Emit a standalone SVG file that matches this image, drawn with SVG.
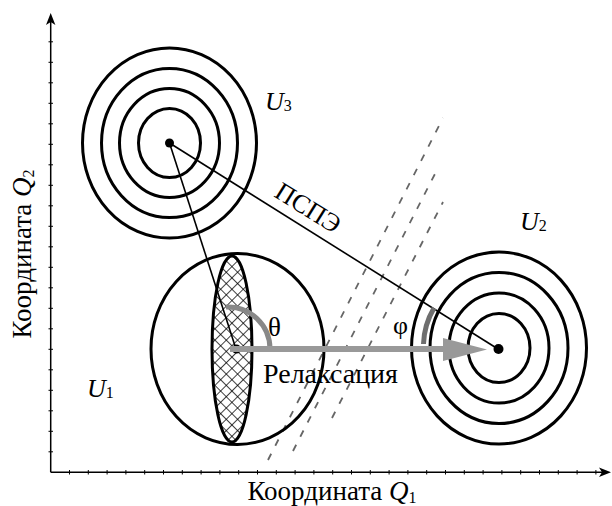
<svg xmlns="http://www.w3.org/2000/svg" width="612" height="506" viewBox="0 0 612 506">
<defs>
<style>
.ax{stroke:#000;stroke-width:1.5;fill:none}
.tk{stroke:#000;stroke-width:1}
.ring{fill:none;stroke:#000;stroke-width:3}
.thin{stroke:#000;stroke-width:1.6;fill:none}
.dash{stroke:#666;stroke-width:1.8;stroke-dasharray:7 9;fill:none}
.lbl{font-family:"Liberation Serif","Times New Roman",serif;fill:#000}
.it{font-style:italic}
</style>
<pattern id="hatch" patternUnits="userSpaceOnUse" width="8" height="8" patternTransform="rotate(45)">
<rect width="8" height="8" fill="#fff"/>
<line x1="0" y1="0" x2="8" y2="0" stroke="#000" stroke-width="1.5"/>
<line x1="0" y1="0" x2="0" y2="8" stroke="#000" stroke-width="1.5"/>
</pattern>
</defs>
<rect width="612" height="506" fill="#fff"/>

<g id="axes">
<line class="ax" x1="50.7" y1="472.3" x2="50.7" y2="22"/>
<polygon points="50.7,13 46,25 50.7,22 55.4,25" fill="#000"/>
<line class="ax" x1="50.7" y1="472.3" x2="602" y2="472.3"/>
<polygon points="611,472.3 599,467.6 602,472.3 599,477" fill="#000"/>
<g class="tk">
<path d="M69.5 470v4.5M88.3 470v4.5M107.1 470v4.5M125.9 470v4.5M144.7 470v4.5M163.5 470v4.5M182.3 470v4.5M201.1 470v4.5M219.9 470v4.5M238.7 470v4.5M257.5 470v4.5M276.3 470v4.5M295.1 470v4.5M313.9 470v4.5M332.7 470v4.5M351.5 470v4.5M370.3 470v4.5M389.1 470v4.5M407.9 470v4.5M426.7 470v4.5M445.5 470v4.5M464.3 470v4.5M483.1 470v4.5M501.9 470v4.5M520.7 470v4.5M539.5 470v4.5M558.3 470v4.5M577.1 470v4.5M595.9 470v4.5"/>
<path d="M48.5 451.8h4.5M48.5 431.3h4.5M48.5 410.8h4.5M48.5 390.3h4.5M48.5 369.8h4.5M48.5 349.3h4.5M48.5 328.8h4.5M48.5 308.3h4.5M48.5 287.8h4.5M48.5 267.3h4.5M48.5 246.8h4.5M48.5 226.3h4.5M48.5 205.8h4.5M48.5 185.3h4.5M48.5 164.8h4.5M48.5 144.3h4.5M48.5 123.8h4.5M48.5 103.3h4.5M48.5 82.8h4.5M48.5 62.3h4.5M48.5 41.8h4.5"/>
</g>
<text class="lbl" x="332" y="500" font-size="27" text-anchor="middle">Координата <tspan class="it">Q</tspan><tspan font-size="16" dy="3">1</tspan></text>
<text class="lbl" transform="translate(31,254) rotate(-90)" x="0" y="0" font-size="27" text-anchor="middle">Координата <tspan class="it">Q</tspan><tspan font-size="16" dy="3">2</tspan></text>
</g>

<g id="dashes">
<line class="dash" x1="268" y1="460" x2="443" y2="118"/>
<line class="dash" x1="293" y1="451" x2="438" y2="168"/>
<line class="dash" x1="332" y1="418" x2="443" y2="202"/>
</g>

<g id="U1">
<ellipse class="ring" cx="237.5" cy="349" rx="86.5" ry="95.5"/>
<ellipse cx="232" cy="349" rx="20" ry="93" fill="url(#hatch)" stroke="#000" stroke-width="3"/>
<text class="lbl it" x="87" y="397" font-size="26">U<tspan font-size="16" font-style="normal" dy="1">1</tspan></text>
</g>

<g id="U3">
<ellipse class="ring" cx="169.5" cy="143" rx="87" ry="95"/>
<ellipse class="ring" cx="169.5" cy="143" rx="68" ry="74.5"/>
<ellipse class="ring" cx="169.5" cy="143" rx="50" ry="54.5"/>
<ellipse class="ring" cx="169.5" cy="143" rx="31" ry="34.5"/>
<circle cx="169.5" cy="143" r="4.5" fill="#000"/>
<text class="lbl it" x="265" y="110" font-size="26">U<tspan font-size="16" font-style="normal" dy="1">3</tspan></text>
</g>

<g id="U2">
<ellipse class="ring" cx="499" cy="348" rx="87.5" ry="96"/>
<ellipse class="ring" cx="499" cy="348" rx="69" ry="75.5"/>
<ellipse class="ring" cx="499" cy="348" rx="50" ry="55"/>
<ellipse class="ring" cx="499" cy="348" rx="31" ry="34.5"/>
<text class="lbl it" x="520" y="230" font-size="26">U<tspan font-size="16" font-style="normal" dy="1">2</tspan></text>
</g>

<g id="connectors">
<line class="thin" x1="169.5" y1="143" x2="236" y2="349"/>
<line class="thin" x1="169.5" y1="143" x2="498" y2="349"/>
<text class="lbl" transform="translate(273,196) rotate(32)" font-size="26">ПСПЭ</text>
<circle cx="236.5" cy="349" r="4.5" fill="#000"/>
<path d="M226 307 A42 42 0 0 1 270 349" fill="none" stroke="#888" stroke-width="5"/>
<line x1="230" y1="349" x2="446" y2="349" stroke="#999" stroke-width="6"/>
<polygon points="443,338 487,349.5 443,361" fill="#999"/>
<path d="M423.5 344 A76 76 0 0 1 434 308" fill="none" stroke="#6e6e6e" stroke-width="5"/>
<circle cx="498.5" cy="349" r="5" fill="#000"/>
<text class="lbl" x="268" y="336" font-size="27">θ</text>
<text class="lbl" x="393" y="334" font-size="26">φ</text>
<text class="lbl" x="263" y="383" font-size="28">Релаксация</text>
</g>
</svg>
